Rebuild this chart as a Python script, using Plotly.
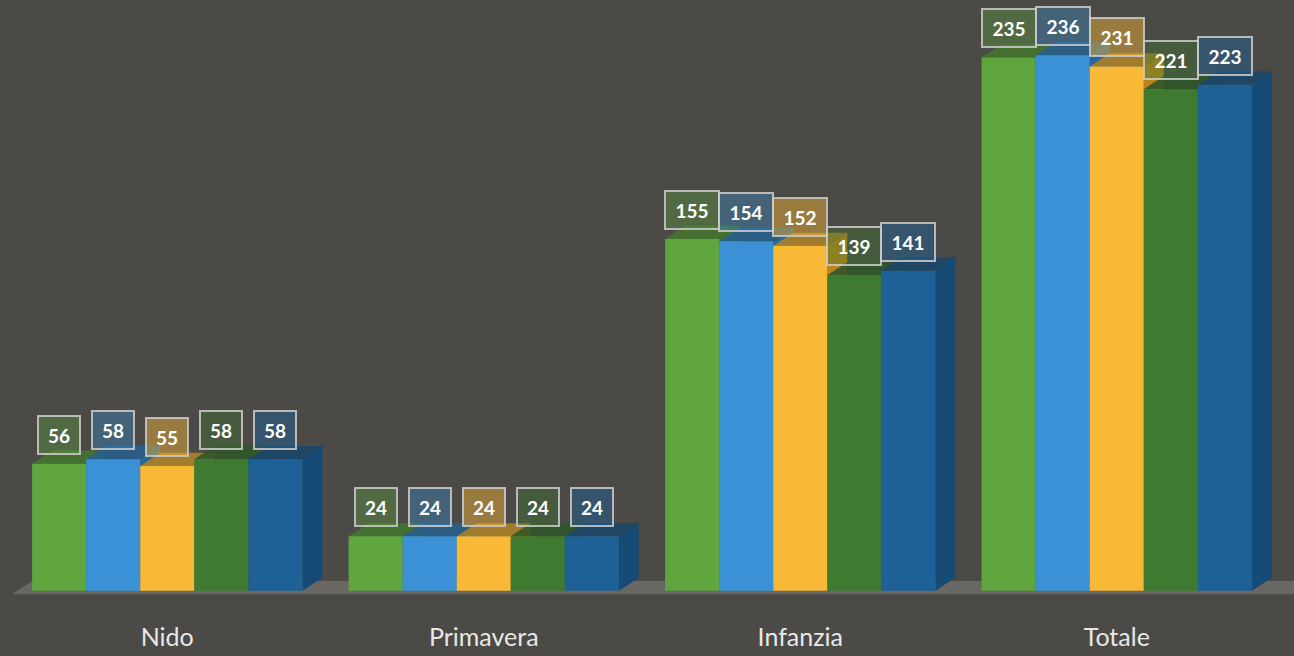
import plotly.graph_objects as go

# ---- data ----
categories = ["Nido", "Primavera", "Infanzia", "Totale"]
serie_1 = [56, 24, 155, 235]
serie_2 = [58, 24, 154, 236]
serie_3 = [55, 24, 152, 231]
serie_4 = [58, 24, 139, 221]
serie_5 = [58, 24, 141, 223]
series = [serie_1, serie_2, serie_3, serie_4, serie_5]

# ---- styles ----
front_colors = ["#5ea63d", "#3a91d6", "#f8b936", "#3e7a2f", "#1d6196"]
side_colors = ["#40752a", "#27679c", "#b98520", "#2b5720", "#154b74"]
top_colors = ["rgba(70,115,48,0.9)", "rgba(40,95,140,0.9)", "rgba(170,130,40,0.9)",
              "rgba(48,85,40,0.9)", "rgba(28,70,105,0.9)"]
box_colors = ["rgba(94,166,61,0.35)", "rgba(58,145,214,0.35)", "rgba(248,185,54,0.45)",
              "rgba(62,122,47,0.35)", "rgba(29,97,150,0.45)"]
bg = "#4b4a47"

group_width = 0.854
n = len(series)
w = group_width / n
dx = 0.063   # depth offset in x units
dy = 5.8     # depth offset in y units

fig = go.Figure()

# floor
fx0, fx1 = -0.49, 3.56
fig.add_trace(go.Scatter(
    x=[fx0, fx1, fx1 + dx, fx0 + dx, fx0], y=[-1.5, -1.5, -1.5 + dy, -1.5 + dy, -1.5],
    fill="toself", fillcolor="rgba(118,116,111,0.7)", line=dict(width=0),
    mode="lines", hoverinfo="skip", showlegend=False, zorder=0))

# sides
for i, vals in enumerate(series):
    off = -group_width / 2 + i * w
    for c, v in enumerate(vals):
        x1 = c + off + w
        fig.add_trace(go.Scatter(
            x=[x1, x1 + dx, x1 + dx, x1, x1], y=[0, dy, v + dy, v, 0],
            fill="toself", fillcolor=side_colors[i], line=dict(width=0),
            mode="lines", hoverinfo="skip", showlegend=False, zorder=1))

# tops
for i, vals in enumerate(series):
    off = -group_width / 2 + i * w
    for c, v in enumerate(vals):
        x0 = c + off
        x1 = x0 + w
        fig.add_trace(go.Scatter(
            x=[x0, x1, x1 + dx, x0 + dx, x0], y=[v, v, v + dy, v + dy, v],
            fill="toself", fillcolor=top_colors[i], line=dict(width=0),
            mode="lines", hoverinfo="skip", showlegend=False, zorder=2))

# fronts
for i, vals in enumerate(series):
    off = -group_width / 2 + i * w
    fig.add_trace(go.Bar(
        x=list(range(len(categories))), y=vals, offset=off, width=w,
        marker=dict(color=front_colors[i], line=dict(width=0)),
        showlegend=False, zorder=3))

# value labels
annotations = []
for i, vals in enumerate(series):
    off = -group_width / 2 + i * w
    for c, v in enumerate(vals):
        txt = str(v)
        annotations.append(dict(
            x=c + off + w / 2, y=v, xref="x", yref="y",
            text="<b>%s</b>" % txt, showarrow=False,
            yanchor="bottom", yshift=9,
            font=dict(family="Lato", size=19, color="white"),
            bgcolor=box_colors[i], bordercolor="rgba(205,205,205,0.85)",
            borderwidth=2, borderpad=4,
            width=32 if len(txt) < 3 else 44, height=28))

fig.update_layout(
    width=1294, height=656,
    paper_bgcolor=bg, plot_bgcolor=bg,
    margin=dict(l=9, r=0, t=12, b=47),
    barmode="overlay",
    annotations=annotations,
    xaxis=dict(range=[-0.5, 3.56], tickvals=list(range(len(categories))),
               ticktext=categories, showgrid=False, zeroline=False, showline=False,
               tickfont=dict(family="Lato", size=25, color="#e8e8e6"),
               ticklabelstandoff=11),
    yaxis=dict(range=[-8, 255], visible=False, showgrid=False, zeroline=False),
)

fig.write_html("out.html", config={"displayModeBar": False},
               post_script="document.body.style.margin='0';document.body.style.background='%s';" % bg)
